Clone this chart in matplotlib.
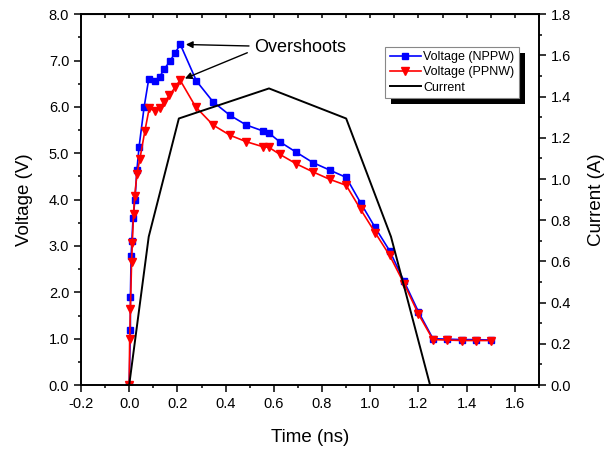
import matplotlib.pyplot as plt
from matplotlib.ticker import MultipleLocator, FormatStrFormatter
from matplotlib.patches import Rectangle
from matplotlib.transforms import IdentityTransform

plt.rcParams['font.family'] = ['Liberation Sans', 'DejaVu Sans']

# Voltage (NPPW)
t_nppw = [0.0, 0.005, 0.005, 0.008, 0.011, 0.016, 0.024, 0.032, 0.041, 0.062, 0.081,
          0.105, 0.126, 0.146, 0.169, 0.191, 0.212, 0.279, 0.348, 0.418, 0.486, 0.556,
          0.579, 0.624, 0.694, 0.762, 0.831, 0.90, 0.96, 1.02, 1.08, 1.14, 1.20, 1.26,
          1.32, 1.38, 1.44, 1.50]
v_nppw = [0.0, 1.19, 1.89, 2.78, 3.11, 3.60, 4.00, 4.64, 5.14, 6.00, 6.60,
          6.56, 6.65, 6.82, 6.99, 7.17, 7.35, 6.56, 6.11, 5.82, 5.61, 5.48,
          5.44, 5.25, 5.02, 4.80, 4.64, 4.48, 3.93, 3.40, 2.90, 2.24, 1.58, 1.00,
          0.99, 0.98, 0.98, 0.97]

# Voltage (PPNW)
t_ppnw = [0.0, 0.002, 0.005, 0.010, 0.013, 0.018, 0.023, 0.032, 0.044, 0.065, 0.083,
          0.105, 0.126, 0.146, 0.167, 0.190, 0.211, 0.276, 0.348, 0.418, 0.486, 0.556,
          0.579, 0.624, 0.694, 0.762, 0.831, 0.90, 0.96, 1.02, 1.08, 1.14, 1.20, 1.26,
          1.32, 1.38, 1.44, 1.50]
v_ppnw = [0.0, 0.99, 1.63, 2.66, 3.06, 3.70, 4.08, 4.55, 4.87, 5.48, 5.97,
          5.92, 5.98, 6.11, 6.25, 6.42, 6.58, 6.00, 5.61, 5.39, 5.25, 5.14,
          5.13, 4.98, 4.77, 4.60, 4.44, 4.31, 3.79, 3.29, 2.80, 2.19, 1.53, 0.98,
          0.97, 0.96, 0.96, 0.96]

# Current
t_cur = [0.0, 0.081, 0.206, 0.58, 0.90, 1.086, 1.248]
i_cur = [0.0, 0.72, 1.294, 1.44, 1.294, 0.72, 0.0]

fig = plt.figure(figsize=(6.13, 4.49), dpi=100)
ax = fig.add_axes([0.1321, 0.1425, 0.7472, 0.8257])
ax2 = ax.twinx()

l1, = ax.plot(t_nppw, v_nppw, color='#0000ff', marker='s', markersize=5, lw=1.2,
              label='Voltage (NPPW)')
l2, = ax.plot(t_ppnw, v_ppnw, color='#ff0000', marker='v', markersize=6, lw=1.2,
              label='Voltage (PPNW)')
l3, = ax2.plot(t_cur, i_cur, color='black', lw=1.4, label='Current')

ax.set_xlim(-0.2, 1.7)
ax.set_ylim(0, 8)
ax2.set_ylim(0, 1.8)

ax.xaxis.set_major_locator(MultipleLocator(0.2))
ax.xaxis.set_minor_locator(MultipleLocator(0.1))
ax.xaxis.set_major_formatter(FormatStrFormatter('%.1f'))
ax.yaxis.set_major_locator(MultipleLocator(1.0))
ax.yaxis.set_minor_locator(MultipleLocator(0.5))
ax.yaxis.set_major_formatter(FormatStrFormatter('%.1f'))
ax2.yaxis.set_major_locator(MultipleLocator(0.2))
ax2.yaxis.set_minor_locator(MultipleLocator(0.1))
ax2.yaxis.set_major_formatter(FormatStrFormatter('%.1f'))

ax.tick_params(axis='both', which='major', direction='out', length=5, width=1.1,
               labelsize=10.5, top=False, right=False)
ax.tick_params(axis='both', which='minor', direction='out', length=2.5, width=1.1,
               top=False, right=False)
ax2.tick_params(axis='y', which='major', direction='out', length=5, width=1.1, labelsize=10.5)
ax2.tick_params(axis='y', which='minor', direction='out', length=2.5, width=1.1)

# top ticks pointing inward, no labels
top = ax.secondary_xaxis('top')
top.xaxis.set_major_locator(MultipleLocator(0.1))
top.tick_params(axis='x', which='both', direction='in', length=3, width=1.1, labeltop=False)

for a in (ax, ax2):
    for s in a.spines.values():
        s.set_linewidth(1.2)

ax.set_xlabel('Time (ns)', fontsize=13.5, labelpad=13)
ax.set_ylabel('Voltage (V)', fontsize=13.5, labelpad=11)
ax2.set_ylabel('Current (A)', fontsize=13.5, labelpad=12)

# overshoot arrows
ax.annotate('Overshoots', xy=(0.218, 7.35), xytext=(0.52, 7.29), fontsize=13,
            ha='left', va='center',
            arrowprops=dict(arrowstyle='-|>', color='black', lw=1.0, mutation_scale=10,
                            shrinkA=2, shrinkB=3))
ax.annotate('', xy=(0.215, 6.58), xytext=(0.49, 7.17),
            arrowprops=dict(arrowstyle='-|>', color='black', lw=1.0, mutation_scale=10,
                            shrinkA=0, shrinkB=3))

leg = ax2.legend(handles=[l1, l2, l3], loc='upper right', bbox_to_anchor=(0.956, 0.912),
                 fontsize=9, frameon=True, fancybox=False, framealpha=1,
                 edgecolor='#888888', handlelength=2.5, handletextpad=0.2,
                 borderpad=0.35, labelspacing=0.25, borderaxespad=0)
leg.get_frame().set_linewidth(0.8)

# thick black shadow behind the legend
fig.canvas.draw()
bb = leg.get_frame().get_window_extent()
shadow = Rectangle((bb.x0 + 6, bb.y0 - 6), bb.width, bb.height, transform=IdentityTransform(),
                   facecolor='black', edgecolor='none', zorder=leg.get_zorder() - 0.1,
                   clip_on=False)
ax2.add_artist(shadow)

plt.savefig('out.png', dpi=100)
